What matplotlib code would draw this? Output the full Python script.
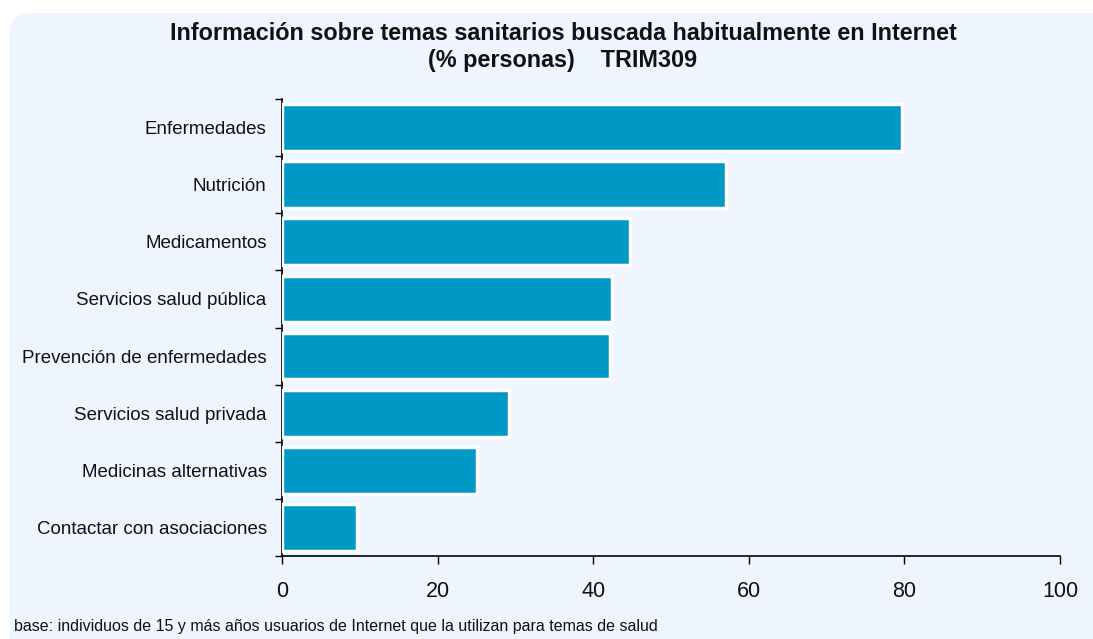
import matplotlib.pyplot as plt
from matplotlib.patches import FancyBboxPatch

plt.rcParams['font.family'] = ['Liberation Sans', 'DejaVu Sans']

# categories top to bottom, % personas
categorias = ['Enfermedades', 'Nutrición', 'Medicamentos', 'Servicios salud pública',
              'Prevención de enfermedades', 'Servicios salud privada',
              'Medicinas alternativas', 'Contactar con asociaciones']
valores = [79.7, 57.1, 44.7, 42.4, 42.2, 29.2, 25.1, 9.6]
xticks = [0, 20, 40, 60, 80, 100]

bg = '#EEF5FE'
fig = plt.figure(figsize=(10.93, 6.39), dpi=100)
fig.patch.set_facecolor('white')

# rounded background panel (runs off the right and bottom edges)
panel = FancyBboxPatch((10 / 1093, -0.3), 1.2, 1.3 - 13 / 639,
                       boxstyle='round,pad=0,rounding_size=0.018',
                       transform=fig.transFigure, facecolor=bg, edgecolor='none',
                       mutation_aspect=1093 / 639, zorder=-5)
fig.patches.append(panel)

ax = fig.add_axes([282 / 1093, 1 - 556 / 639, 778 / 1093, 457 / 639])
ax.set_facecolor('none')
ax.set_zorder(2)

pos = list(range(len(categorias)))
ax.barh(pos, valores, height=0.82, color='#0098C4', edgecolor='white', linewidth=2.5, zorder=3)
ax.set_ylim(len(categorias) - 0.5, -0.5)
ax.set_xlim(0, 100)

ax.set_yticks(pos)
ax.set_yticklabels(categorias, fontsize=13.5, color='#111111')
ax.set_yticks([p + 0.5 for p in [-1] + pos], minor=True)
ax.tick_params(axis='y', which='major', length=0, pad=11)
ax.tick_params(axis='y', which='minor', length=5, width=1, direction='out')

ax.set_xticks(xticks)
ax.set_xticklabels([str(t) for t in xticks], fontsize=15.5, color='#111111')
ax.tick_params(axis='x', length=6, width=1, pad=12)

for s in ['top', 'right']:
    ax.spines[s].set_visible(False)
for s in ['left', 'bottom']:
    ax.spines[s].set_linewidth(1.2)
    ax.spines[s].set_color('black')

fig.text(0.515, 1 - 33 / 639, 'Información sobre temas sanitarios buscada habitualmente en Internet',
         ha='center', va='center', fontsize=16.8, fontweight='bold', color='#111111')
fig.text(0.515, 1 - 61 / 639, '(% personas)    TRIM309',
         ha='center', va='center', fontsize=16.8, fontweight='bold', color='#111111')

fig.text(14 / 1093, 1 - 627 / 639,
         'base: individuos de 15 y más años usuarios de Internet que la utilizan para temas de salud',
         ha='left', va='center', fontsize=11.5, color='#111111')

fig.savefig('out.png', dpi=100, facecolor=fig.get_facecolor())
